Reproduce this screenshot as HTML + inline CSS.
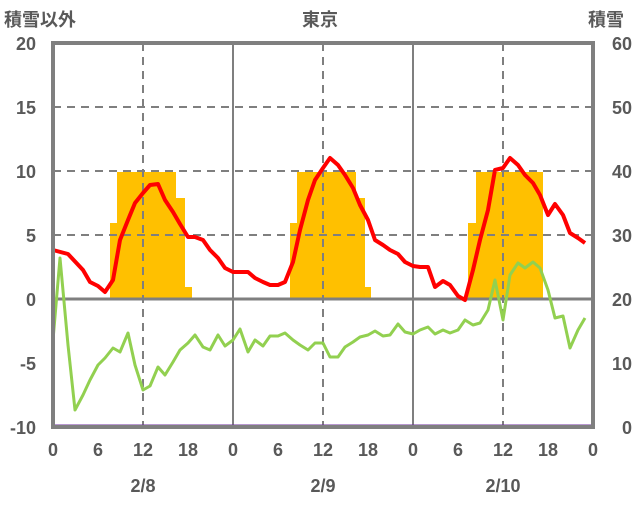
<!DOCTYPE html>
<html><head><meta charset="utf-8"><style>
html,body{margin:0;padding:0;background:#fff;}
svg text{font-family:"Liberation Sans","Noto Sans CJK JP",sans-serif;font-weight:bold;fill:#595959;font-size:18px;}
</style></head><body>
<svg width="636" height="501" xmlns="http://www.w3.org/2000/svg">
<rect width="636" height="501" fill="#fff"/>
<g fill="#FFC000">
<rect x="110" y="223" width="8" height="76"/><rect x="117" y="172" width="59" height="127"/><rect x="175" y="198" width="10" height="101"/><rect x="184" y="287" width="8" height="12"/>
<rect x="290" y="223" width="8" height="76"/><rect x="297" y="172" width="59" height="127"/><rect x="355" y="198" width="10" height="101"/><rect x="364" y="287" width="7" height="12"/>
<rect x="468" y="223" width="9" height="76"/><rect x="476" y="172" width="67" height="127"/>
</g>
<g stroke="#7f7f7f" stroke-width="2" stroke-dasharray="8,6" fill="none">
<line x1="53" y1="107" x2="593" y2="107"/><line x1="53" y1="171" x2="593" y2="171"/><line x1="53" y1="235" x2="593" y2="235"/>
<line x1="143" y1="43" x2="143" y2="427"/><line x1="323" y1="43" x2="323" y2="427"/><line x1="503" y1="43" x2="503" y2="427"/>
</g>
<g stroke="#7f7f7f" stroke-width="2"><line x1="233" y1="43" x2="233" y2="427"/><line x1="413" y1="43" x2="413" y2="427"/></g>
<line x1="53" y1="299" x2="593" y2="299" stroke="#7f7f7f" stroke-width="3"/>
<polyline fill="none" stroke="#92D050" stroke-width="3" stroke-linejoin="round" points="53,340 60,258 68,345 75,410 83,395 90,380 98,365 105,358 113,348 120,352 128,333 135,365 143,390 150,386 158,367 165,375 173,362 180,350 188,343 195,335 203,347 210,350 218,335 225,346 233,340 240,329 248,352 255,340 263,346 270,336 278,336 285,333 293,340 300,345 308,350 315,343 323,343 330,357 338,357 345,347 353,342 360,337 368,335 375,331 383,336 390,335 398,324 405,332 413,334 420,330 428,327 435,334 443,330 450,333 458,330 465,320 473,325 480,323 488,310 495,280 503,320 510,275 518,263 525,268 533,262 540,268 548,290 555,318 563,316 570,348 578,330 585,318"/>
<polyline fill="none" stroke="#FF0000" stroke-width="4" stroke-linejoin="round" points="53,250 68,254 83,270 90,282 98,286 105,292 113,280 120,240 128,220 135,203 143,193 150,185 158,184 165,200 173,212 180,224 188,237 195,237 203,240 210,250 218,258 225,268 233,272 240,272 248,272 255,278 263,282 270,285 278,285 285,282 293,262 300,230 308,200 315,180 323,168 330,158 338,165 345,175 353,188 360,205 368,220 375,240 383,245 390,250 398,254 405,262 413,266 420,267 428,267 435,287 443,281 450,285 458,296 465,300 473,270 480,240 488,210 495,170 503,168 510,158 518,165 525,175 533,183 540,195 548,215 555,204 563,215 570,233 578,238 585,243"/>
<line x1="53" y1="426" x2="593" y2="426" stroke="#7030A0" stroke-width="3"/>
<rect x="53" y="43" width="540" height="384" fill="none" stroke="#7f7f7f" stroke-width="4"/>
<g text-anchor="end">
<text x="36" y="50">20</text><text x="36" y="114">15</text><text x="36" y="178">10</text><text x="36" y="242">5</text><text x="36" y="306">0</text><text x="36" y="370">-5</text><text x="36" y="434">-10</text>
</g>
<g text-anchor="end">
<text x="632" y="50">60</text><text x="632" y="114">50</text><text x="632" y="178">40</text><text x="632" y="242">30</text><text x="632" y="306">20</text><text x="632" y="370">10</text><text x="632" y="434">0</text>
</g>
<g text-anchor="middle">
<text x="53" y="456">0</text><text x="98" y="456">6</text><text x="143" y="456">12</text><text x="188" y="456">18</text>
<text x="233" y="456">0</text><text x="278" y="456">6</text><text x="323" y="456">12</text><text x="368" y="456">18</text>
<text x="413" y="456">0</text><text x="458" y="456">6</text><text x="503" y="456">12</text><text x="548" y="456">18</text><text x="593" y="456">0</text>
<text x="143" y="492">2/8</text><text x="323" y="492">2/9</text><text x="503" y="492">2/10</text>
<text x="320" y="26">東京</text>
</g>
<text x="4" y="26">積雪以外</text>
<text x="588" y="26">積雪</text>
</svg>
</body></html>
